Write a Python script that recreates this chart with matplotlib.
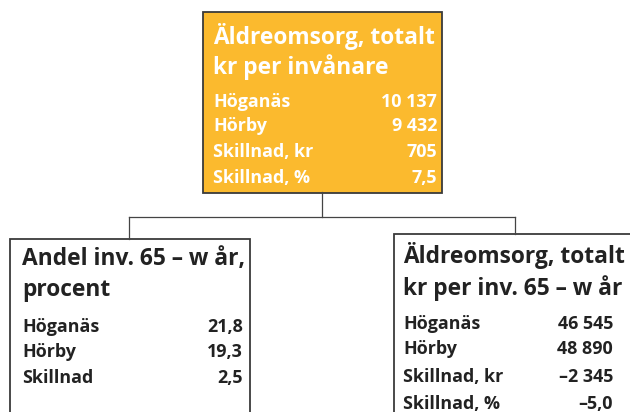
import matplotlib
matplotlib.use("Agg")
import matplotlib.pyplot as plt
from matplotlib.patches import Rectangle

# ---- data ----
top_title = ["Äldreomsorg, totalt", "kr per invånare"]
top_labels = ["Höganäs", "Hörby", "Skillnad, kr", "Skillnad, %"]
top_values = ["10 137", "9 432", "705", "7,5"]

left_title = ["Andel inv. 65 – w år,", "procent"]
left_labels = ["Höganäs", "Hörby", "Skillnad"]
left_values = ["21,8", "19,3", "2,5"]

right_title = ["Äldreomsorg, totalt", "kr per inv. 65 – w år"]
right_labels = ["Höganäs", "Hörby", "Skillnad, kr", "Skillnad, %"]
right_values = ["46 545", "48 890", "–2 345", "–5,0"]

W, H = 630, 412
fig = plt.figure(figsize=(W / 100, H / 100), dpi=100)
ax = fig.add_axes([0, 0, 1, 1])
ax.set_xlim(0, W)
ax.set_ylim(H, 0)
ax.axis("off")

FONT = "Open Sans"
ORANGE = "#FBBA2E"
DARK = "#222222"
EDGE = "#3a3a3a"

# connectors
lc = "#444444"
ax.plot([322, 322], [192, 217], color=lc, lw=0.9)
ax.plot([129, 515], [217, 217], color=lc, lw=0.9)
ax.plot([129, 129], [217, 239], color=lc, lw=0.9)
ax.plot([515, 515], [217, 234], color=lc, lw=0.9)

# boxes
ax.add_patch(Rectangle((203, 12), 239, 181, facecolor=ORANGE, edgecolor=EDGE, lw=1.3))
ax.add_patch(Rectangle((10, 239), 240, 200, facecolor="white", edgecolor=EDGE, lw=1.3))
ax.add_patch(Rectangle((394, 234), 260, 200, facecolor="white", edgecolor=EDGE, lw=1.3))

TS = 16.4  # title font size (pt)
RS = 12.9  # row font size (pt)


def box_text(x0, x1, title, title_y, labels, values, rows_y, color):
    for t, y in zip(title, title_y):
        ax.text(x0, y, t, fontsize=TS, fontweight="bold", family=FONT,
                color=color, ha="left", va="baseline")
    for lab, val, y in zip(labels, values, rows_y):
        ax.text(x0, y, lab, fontsize=RS, fontweight="bold", family=FONT,
                color=color, ha="left", va="baseline")
        ax.text(x1, y, val, fontsize=RS, fontweight="bold", family=FONT,
                color=color, ha="right", va="baseline")


box_text(213, 437, top_title, [44, 74], top_labels, top_values,
         [107, 131, 157, 183], "white")
box_text(22, 243, left_title, [265, 296], left_labels, left_values,
         [332, 357, 383], DARK)
box_text(403, 613, right_title, [263, 295], right_labels, right_values,
         [329, 354, 382, 409], DARK)

fig.savefig("out.png", dpi=100)
